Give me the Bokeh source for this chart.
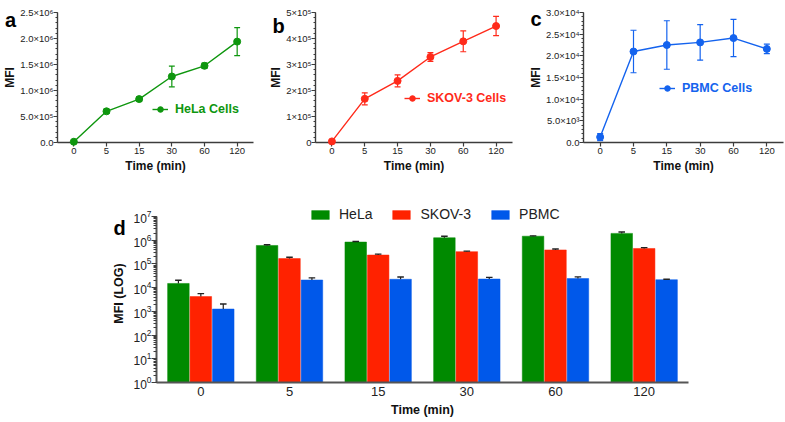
from bokeh.plotting import figure
from bokeh.models import (FactorRange, Range1d, SingleIntervalTicker, LogTicker,
                          Legend, LegendItem, ColumnDataSource)
from bokeh.core.properties import value
from bokeh.transform import dodge
from bokeh.layouts import column, row
from bokeh.embed import file_html
from bokeh.resources import INLINE

# ---------------- data ----------------
times = ["0", "5", "15", "30", "60", "120"]

hela = [1.5e4, 6.0e5, 8.35e5, 1.27e6, 1.475e6, 1.94e6]
hela_err = [5.5e3, 4.0e4, 4.5e4, 2.0e5, 5.0e4, 2.7e5]

skov = [4.2e3, 1.68e5, 2.37e5, 3.29e5, 3.89e5, 4.48e5]
skov_err = [1.4e3, 2.3e4, 2.3e4, 1.7e4, 4.0e4, 3.7e4]

pbmc = [1.25e3, 2.10e4, 2.25e4, 2.31e4, 2.41e4, 2.16e4]
pbmc_err = [8.0e2, 4.9e3, 5.6e3, 4.1e3, 4.3e3, 1.1e3]

a_ticks = [0, 500000, 1000000, 1500000, 2000000, 2500000]
a_tick_labels = ["0.0", "5.0×10⁵", "1.0×10⁶", "1.5×10⁶", "2.0×10⁶", "2.5×10⁶"]
b_ticks = [0, 100000, 200000, 300000, 400000, 500000]
b_tick_labels = ["0", "1×10⁵", "2×10⁵", "3×10⁵", "4×10⁵", "5×10⁵"]
c_ticks = [0, 5000, 10000, 15000, 20000, 25000, 30000]
c_tick_labels = ["0.0", "5.0×10³", "1.0×10⁴", "1.5×10⁴", "2.0×10⁴", "2.5×10⁴", "3.0×10⁴"]

series_names = ["HeLa", "SKOV-3", "PBMC"]
line_colors = ["#0e960e", "#ff2a1a", "#1463ee"]
bar_colors = ["#008a00", "#ff2200", "#0058ea"]

FONT = "Liberation Sans"
AXIS_COLOR = "#3c3c3c"


def style_axes(p, tick_size="9.5px", label_size="12px"):
    for ax in (p.xaxis, p.yaxis):
        ax.axis_line_color = AXIS_COLOR
        ax.axis_line_width = 1.4
        ax.major_tick_line_color = AXIS_COLOR
        ax.major_tick_line_width = 1.2
        ax.minor_tick_line_color = AXIS_COLOR
        ax.major_tick_out = 4
        ax.major_tick_in = 0
        ax.minor_tick_out = 2
        ax.minor_tick_in = 0
        ax.major_label_text_font = FONT
        ax.major_label_text_font_size = tick_size
        ax.major_label_text_color = "#222222"
        ax.axis_label_text_font = FONT
        ax.axis_label_text_font_style = "bold"
        ax.axis_label_text_font_size = label_size
        ax.axis_label_text_color = "#111111"
    p.xgrid.visible = False
    p.ygrid.visible = False
    p.outline_line_color = None


def add_letter(p, letter, x, y):
    # panel letter, drawn as an overlay-level text glyph so it may sit outside the frame
    p.text(x=[x], y=[y], text=[letter], text_font=value(FONT), text_font_style="bold",
           text_font_size="20px", text_color="black", text_align="left",
           text_baseline="alphabetic", level="overlay")


def line_panel(vals, errs, color, ymax, ticks, tick_labels, interval, leg_label,
               leg_loc, letter, letter_px, width, height, borders):
    left, right, top, bottom = borders
    fw = width - left - right
    fh = height - top - bottom
    p = figure(x_range=FactorRange(*times), y_range=Range1d(0, ymax),
               width=width, height=height, output_backend="svg", toolbar_location=None,
               min_border_left=left, min_border_right=right,
               min_border_top=top, min_border_bottom=bottom)
    lo = [v - e for v, e in zip(vals, errs)]
    hi = [v + e for v, e in zip(vals, errs)]
    src = ColumnDataSource(dict(t=times, v=vals, lo=lo, hi=hi))
    p.segment(x0="t", x1="t", y0="lo", y1="hi", source=src, line_color=color, line_width=1.2)
    for col in ("hi", "lo"):
        p.segment(x0=dodge("t", -0.09, range=p.x_range), x1=dodge("t", 0.09, range=p.x_range),
                  y0=col, y1=col, source=src, line_color=color, line_width=1.2)
    lr = p.line(x="t", y="v", source=src, line_color=color, line_width=1.4)
    sr = p.scatter(x="t", y="v", source=src, size=7, fill_color=color, line_color=color,
                   level="overlay")
    p.yaxis.ticker = SingleIntervalTicker(interval=interval, num_minor_ticks=5)
    p.yaxis.major_label_overrides = {t: l for t, l in zip(ticks, tick_labels)}
    p.xaxis.axis_label = "Time (min)"
    p.yaxis.axis_label = "MFI"
    style_axes(p)
    p.xaxis.major_label_standoff = 1
    p.xaxis.axis_label_standoff = 2
    p.yaxis.major_label_standoff = 0
    p.yaxis.axis_label_standoff = 0
    leg = Legend(items=[LegendItem(label=leg_label, renderers=[lr, sr])], location=leg_loc,
                 glyph_width=16, glyph_height=14, label_standoff=7,
                 label_text_font=FONT, label_text_font_style="bold",
                 label_text_font_size="12.5px", label_text_color=color,
                 padding=0, margin=0, background_fill_alpha=0, border_line_alpha=0)
    p.add_layout(leg)
    dx, dy = letter_px
    add_letter(p, letter, dx / fw * len(times), ymax - dy / fh * ymax)
    return p


fa = line_panel(hela, hela_err, line_colors[0], 2.5e6, a_ticks, a_tick_labels, 5e5,
                "HeLa Cells", (95, 26), "a", (-53, 8), 262, 180, (55, 9, 10, 38))
fb = line_panel(skov, skov_err, line_colors[1], 5e5, b_ticks, b_tick_labels, 1e5,
                "SKOV-3 Cells", (89, 37), "b", (-43, 14), 262, 180, (53, 12, 12, 37))
fc = line_panel(pbmc, pbmc_err, line_colors[2], 3e4, c_ticks, c_tick_labels, 5e3,
                "PBMC Cells", (76, 47), "c", (-53, 7), 260, 180, (59, 1, 11, 36))

# ---------------- panel d ----------------
D_W, D_H = 784, 241
D_L, D_R, D_T, D_B = 156, 96, 24, 39
EXTRA_TOP = 12                      # frame space above 10^7 that holds the legend
fw_d = D_W - D_L - D_R
fh_d = D_H - D_T - D_B
decade_px = (fh_d - EXTRA_TOP) / 7.0
fd = figure(x_range=FactorRange(*times), y_range=Range1d(1, 10 ** (7 + EXTRA_TOP / decade_px)),
            y_axis_type="log",
            width=D_W, height=D_H, output_backend="svg", toolbar_location=None,
            min_border_left=D_L, min_border_right=D_R, min_border_top=D_T, min_border_bottom=D_B)
dsrc = ColumnDataSource(dict(
    t=times,
    hela=hela, hela_hi=[v + e for v, e in zip(hela, hela_err)],
    skov=skov, skov_hi=[v + e for v, e in zip(skov, skov_err)],
    pbmc=pbmc, pbmc_hi=[v + e for v, e in zip(pbmc, pbmc_err)],
))
offsets = [-0.253, 0.0, 0.253]
bar_renderers = []
for key, color, off in zip(["hela", "skov", "pbmc"], bar_colors, offsets):
    r = fd.vbar(x=dodge("t", off, range=fd.x_range), top=key, bottom=1, width=0.243,
                source=dsrc, fill_color=color, line_color=color, line_alpha=0.5)
    bar_renderers.append(r)
    fd.segment(x0=dodge("t", off, range=fd.x_range), x1=dodge("t", off, range=fd.x_range),
               y0=key, y1=key + "_hi", source=dsrc, line_color="#222222", line_width=1.2)
    fd.segment(x0=dodge("t", off - 0.037, range=fd.x_range),
               x1=dodge("t", off + 0.037, range=fd.x_range),
               y0=key + "_hi", y1=key + "_hi", source=dsrc, line_color="#222222", line_width=1.4)

fd.yaxis.ticker = LogTicker(desired_num_ticks=8, num_minor_ticks=10)
fd.yaxis.bounds = (1, 1e7)
fd.xaxis.axis_label = "Time (min)"
fd.yaxis.axis_label = "MFI (LOG)"
style_axes(fd, tick_size="12px", label_size="12.5px")
fd.xaxis.major_label_text_font_size = "13px"
fd.xaxis.major_tick_line_color = None
fd.xaxis.major_tick_out = 0
for ax in (fd.xaxis, fd.yaxis):
    ax.axis_line_width = 2
    ax.axis_line_color = "#555555"
fd.xaxis.major_label_standoff = 4
fd.xaxis.axis_label_standoff = 4
fd.yaxis.major_tick_out = 5
fd.yaxis.minor_tick_out = 3
fd.yaxis.major_label_standoff = 0
fd.yaxis.axis_label_standoff = 4

dleg = Legend(items=[LegendItem(label=n, renderers=[r]) for n, r in zip(series_names, bar_renderers)],
              location=(153, fh_d - 2 - 16), orientation="horizontal",
              glyph_width=22, glyph_height=11, label_standoff=8, spacing=18,
              label_text_font=FONT, label_text_font_size="14px", label_text_color="#222222",
              padding=0, margin=0, background_fill_alpha=0, border_line_alpha=0)
fd.add_layout(dleg)
add_letter(fd, "d", -43 / fw_d * len(times), 10 ** (7 - 11 / decade_px))

layout = column(row(fa, fb, fc, spacing=0), fd, spacing=0)
open("out.html", "w").write(file_html(layout, INLINE))
